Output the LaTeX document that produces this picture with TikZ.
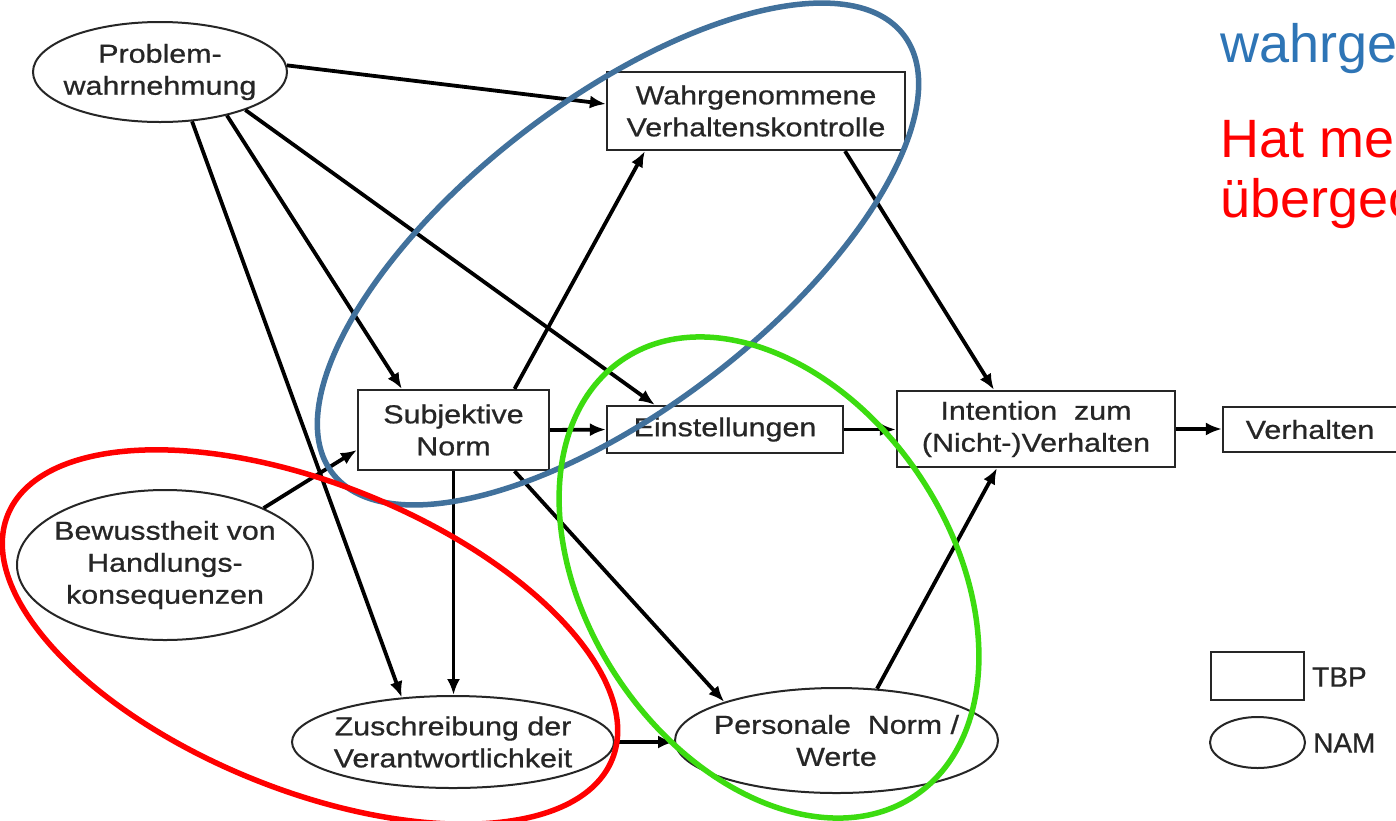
\documentclass[tikz,border=0pt]{standalone}
\usepackage{fontspec}
\setmainfont{Liberation Sans}
\newfontfamily\nodefont[FakeStretch=1.17,FakeBold=0.7]{Liberation Sans}
\newfontfamily\legfont[FakeBold=0.7]{Liberation Sans}
\usetikzlibrary{arrows.meta,shapes.geometric}
\definecolor{ringblue}{HTML}{41719C}
\definecolor{ringred}{HTML}{FF0000}
\definecolor{ringgreen}{HTML}{3CDC10}
\definecolor{headblue}{HTML}{2E75B6}
\definecolor{ink}{HTML}{262626}
\tikzset{
  tbp/.style={draw=ink, line width=2.2pt, rectangle, inner sep=0pt, align=center,
    font=\nodefont\fontsize{26}{32}\selectfont, text=ink},
  nam/.style={draw=ink, line width=2pt, ellipse, inner sep=-60pt, align=center,
    font=\nodefont\fontsize{26}{32}\selectfont, text=ink},
  conn/.style={draw=black, line width=3.8pt, -{Latex[length=16pt,width=13pt]}},
  ring/.style={line width=5.5pt},
  headline/.style={font=\fontsize{54}{60}\selectfont, anchor=base west, inner sep=0pt},
  legendtext/.style={font=\legfont\fontsize{28}{32}\selectfont, anchor=west, inner sep=0pt, text=ink},
}
\begin{document}
\begin{tikzpicture}[x=1pt,y=1pt]
\useasboundingbox (0,0) rectangle (1396,-820);
\fill[white] (0,0) rectangle (1396,-820);
\clip (0,0) rectangle (1396,-820);

% nodes
\node[nam, minimum width=254pt, minimum height=100pt] (prob) at (160,-72) {Problem-\\wahrnehmung};
\node[tbp, minimum width=298pt, minimum height=78pt] (wahr) at (756,-111) {Wahrgenommene\\Verhaltenskontrolle};
\node[tbp, minimum width=191pt, minimum height=80pt] (subj) at (453.5,-430) {Subjektive\\Norm};
\node[tbp, minimum width=236pt, minimum height=47pt] (einst) at (725,-429.5) {Einstellungen};
\node[tbp, minimum width=278pt, minimum height=76pt] (inten) at (1036,-429) {Intention\ \ zum\\(Nicht-)Verhalten};
\node[tbp, minimum width=174pt, minimum height=45pt] (verh) at (1310,-429.5) {Verhalten};
\node[nam, minimum width=296pt, minimum height=150pt] (bew) at (165,-565) {Bewusstheit von\\Handlungs-\\konsequenzen};
\node[nam, minimum width=322pt, minimum height=92pt] (zusch) at (453,-742) {Zuschreibung der\\Verantwortlichkeit};
\node[nam, minimum width=323pt, minimum height=105pt] (pers) at (836.5,-740.5) {Personale\ \ Norm /\\Werte};

% legend
\node[tbp, minimum width=93pt, minimum height=48pt] (legbox) at (1257.5,-676) {};
\node[nam, minimum width=95pt, minimum height=51pt] (legoval) at (1257.5,-742.5) {};
\node[legendtext] (legtbp) at (1312,-677) {TBP};
\node[legendtext] (legnam) at (1313,-743) {NAM};

% connectors
\draw[conn] (prob.3) -- ([yshift=7pt]wahr.west);
\draw[conn] (prob.-33) -- ([xshift=45pt]subj.north west);
\draw[conn] (prob.-24) -- ([xshift=49pt]einst.north west);
\draw[conn] (prob.-57) -- (zusch.139);
\draw[conn] ([xshift=61pt]subj.north) -- ([xshift=39pt]wahr.south west);
\draw[conn] (subj.east) -- (einst.west);
\draw[conn] (einst.east) -- (einst.east -| inten.west);
\draw[conn] ([xshift=89pt]wahr.south) -- ([xshift=-42pt]inten.north);
\draw[conn] (inten.east) -- (inten.east -| verh.west);
\draw[conn] (bew.30) -- ([yshift=-20pt]subj.west);
\draw[conn] (subj.south) -- (subj.south |- zusch.north);
\draw[conn] ([xshift=61pt]subj.south) -- (pers.161);
\draw[conn] (zusch.east) -- (zusch.east -| pers.west);
\draw[conn] (pers.52) -- ([xshift=-39pt]inten.south);

% highlight rings
\draw[ring, ringblue, shift={(618,-254)}, rotate=37.5] (0,0) ellipse [x radius=360pt, y radius=154pt];
\draw[ring, ringred, shift={(310,-637)}, rotate=-22] (0,0) ellipse [x radius=326pt, y radius=153pt];
\draw[ring, ringgreen, shift={(769,-577.5)}, rotate=-56.3] (0,0) ellipse [x radius=262.5pt, y radius=181.7pt];

% headline text (cut at the right edge, as in the reference)
\node[headline, text=headblue] (h1) at (1220,-62) {wahrge};
\node[headline, text=ringred] (h2) at (1220,-157) {Hat me};
\node[headline, text=ringred] (h3) at (1220,-217) {übergeo};
\end{tikzpicture}
\end{document}
